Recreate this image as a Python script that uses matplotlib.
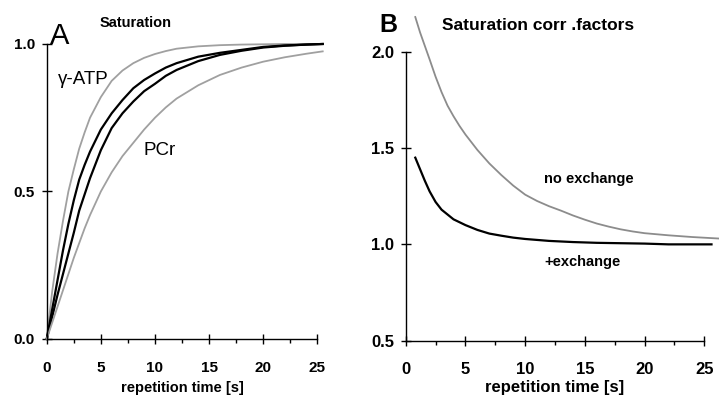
import numpy as np
import matplotlib
matplotlib.use('Agg')
import matplotlib.pyplot as plt

plt.rcParams['font.family'] = ['Liberation Sans', 'DejaVu Sans']

# Panel A: saturation curves
t_a = [0, 0.5, 1, 1.5, 2, 2.5, 3, 3.5, 4, 5, 6, 7, 8, 9, 10, 11, 12, 14, 16, 18, 20, 22, 24, 25.5]
atp_grey = [0, 0.16, 0.29, 0.40, 0.50, 0.575, 0.645, 0.70, 0.75, 0.82, 0.875, 0.91, 0.935, 0.953,
            0.966, 0.976, 0.984, 0.992, 0.996, 0.998, 0.999, 1.0, 1.0, 1.0]
atp_black = [0, 0.10, 0.20, 0.30, 0.39, 0.47, 0.54, 0.59, 0.635, 0.71, 0.765, 0.81, 0.85, 0.878,
             0.90, 0.92, 0.935, 0.957, 0.97, 0.98, 0.99, 0.995, 0.998, 1.0]
pcr_black = [0, 0.075, 0.15, 0.22, 0.29, 0.36, 0.435, 0.49, 0.545, 0.64, 0.715, 0.765, 0.805, 0.84,
             0.865, 0.892, 0.912, 0.942, 0.963, 0.977, 0.988, 0.994, 0.998, 1.0]
pcr_grey = [0, 0.055, 0.11, 0.165, 0.22, 0.275, 0.325, 0.375, 0.42, 0.50, 0.565, 0.62, 0.665, 0.71,
            0.75, 0.785, 0.815, 0.86, 0.895, 0.92, 0.94, 0.955, 0.967, 0.975]

# Panel B: saturation correction factors
t_noex = [0.8, 1.2, 1.6, 2.0, 2.5, 3, 3.5, 4, 4.5, 5, 6, 7, 8, 9, 10, 11, 12, 13, 14, 15, 16, 17,
          18, 19, 20, 22, 24, 26.3]
f_noex = [2.18, 2.10, 2.03, 1.96, 1.87, 1.79, 1.72, 1.665, 1.615, 1.57, 1.49, 1.42, 1.36, 1.305,
          1.258, 1.225, 1.198, 1.175, 1.15, 1.128, 1.108, 1.092, 1.078, 1.067, 1.058, 1.047, 1.038, 1.03]
t_ex = [0.8, 1.2, 1.6, 2.0, 2.5, 3, 3.5, 4, 5, 6, 7, 8, 9, 10, 12, 14, 16, 18, 20, 22, 24, 25.6]
f_ex = [1.45, 1.39, 1.33, 1.275, 1.22, 1.18, 1.155, 1.13, 1.10, 1.075, 1.056, 1.045, 1.035, 1.028,
        1.018, 1.012, 1.008, 1.006, 1.004, 1.0, 1.0, 1.0]

xticks = [0, 5, 10, 15, 20, 25]

fig = plt.figure(figsize=(7.19, 3.97), dpi=100)
ax1 = fig.add_axes([0.065, 0.1461, 0.3763, 0.7431])
ax2 = fig.add_axes([0.5643, 0.1418, 0.4153, 0.7280])


def style(ax, yticks, fs, xfs, lpad):
    for s in ['top', 'right']:
        ax.spines[s].set_visible(False)
    ax.spines['left'].set_linewidth(1.0)
    ax.spines['bottom'].set_linewidth(1.0)
    ax.set_xlim(0, 25)
    ax.set_xticks(xticks)
    ax.set_xticks([2.5, 7.5, 12.5, 17.5, 22.5], minor=True)
    ax.set_yticks(yticks)
    ax.set_yticklabels(['%.1f' % v for v in yticks], fontsize=fs, fontweight='bold')
    ax.set_xticklabels([str(v) for v in xticks], fontsize=fs, fontweight='bold')
    ax.tick_params(axis='both', which='major', direction='inout', length=7, width=1.0)
    ax.tick_params(axis='x', which='major', pad=12)
    ax.tick_params(axis='x', which='minor', direction='out', length=3, width=1.0)
    ax.tick_params(axis='y', which='major', pad=5)
    ax.set_xlabel('repetition time [s]', fontsize=xfs, fontweight='bold', labelpad=lpad)


# Panel A
ax1.plot(t_a, atp_grey, color='#a0a0a0', lw=1.3, clip_on=False)
ax1.plot(t_a, atp_black, color='black', lw=1.6, clip_on=False)
ax1.plot(t_a, pcr_black, color='black', lw=1.6, clip_on=False)
ax1.plot(t_a, pcr_grey, color='#a0a0a0', lw=1.3, clip_on=False)
ax1.set_ylim(0, 1.0)
style(ax1, [0.0, 0.5, 1.0], 11, 10.5, 5)
ax1.text(0.3, 1.0, 'A', fontsize=21, ha='left', va='baseline')
ax1.text(0.33, 1.07, 'Saturation', fontsize=10.5, fontweight='bold', ha='center', va='center',
         transform=ax1.transAxes)
ax1.text(1.0, 0.88, '\u03b3-ATP', fontsize=13.5, ha='left', va='center')
ax1.text(8.9, 0.64, 'PCr', fontsize=13.5, ha='left', va='center')

# Panel B
ax2.plot(t_noex, f_noex, color='#8c8c8c', lw=1.3, clip_on=False)
ax2.plot(t_ex, f_ex, color='black', lw=1.6, clip_on=False)
ax2.set_ylim(0.5, 2.0)
style(ax2, [0.5, 1.0, 1.5, 2.0], 12, 12, 2)
ax2.text(-0.059, 1.092, 'B', fontsize=18, fontweight='bold', ha='center', va='center',
         transform=ax2.transAxes)
ax2.text(0.12, 1.09, 'Saturation corr .factors', fontsize=12.5, fontweight='bold', ha='left',
         va='center', transform=ax2.transAxes)
ax2.text(11.6, 1.34, 'no exchange', fontsize=10.5, fontweight='bold', ha='left', va='center')
ax2.text(11.6, 0.91, '+exchange', fontsize=10.5, fontweight='bold', ha='left', va='center')

fig.savefig('out.png', dpi=100)
